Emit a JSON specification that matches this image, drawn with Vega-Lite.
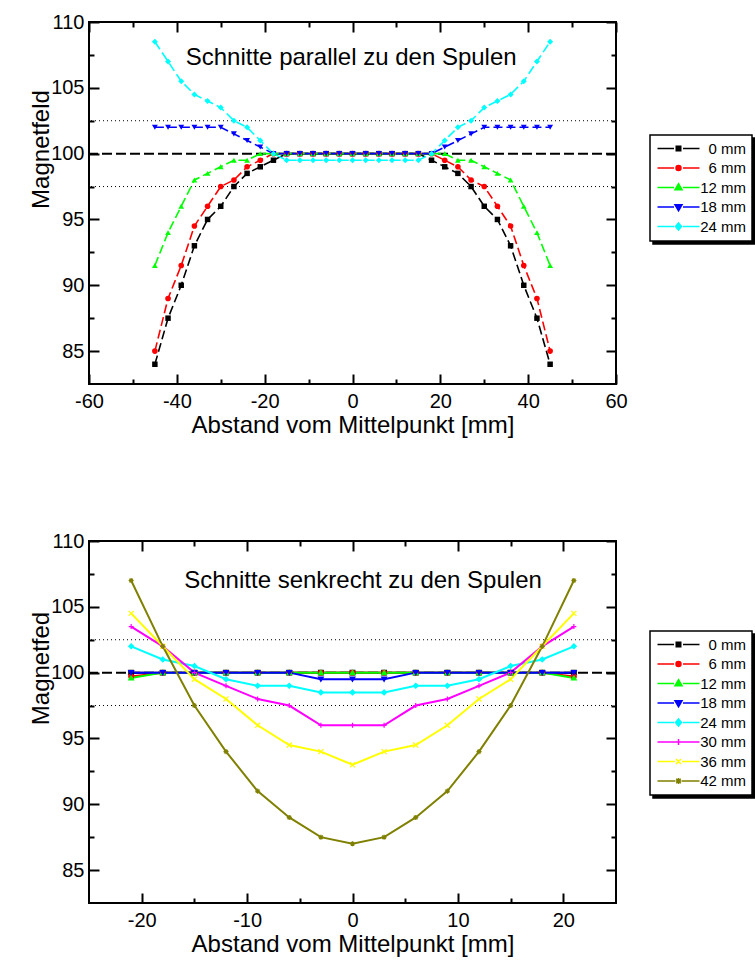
{
  "$schema": "https://vega.github.io/schema/vega-lite/v6.json",
  "padding": {"left": 28, "top": 11, "right": 0, "bottom": 0},
  "background": "white",
  "spacing": 92,
  "config": {
    "font": "Liberation Sans",
    "view": {"stroke": "black", "strokeWidth": 2},
    "axis": {"grid": false, "domain": false, "labelFont": "Liberation Sans", "titleFont": "Liberation Sans", "labelColor": "black", "titleColor": "black", "tickColor": "black", "tickWidth": 2, "labelFontSize": 20, "titleFontSize": 24, "titleFontWeight": "normal", "labelFlush": false, "labelOverlap": false},
    "legend": {"labelFont": "Liberation Sans", "labelFontSize": 15, "labelColor": "black", "strokeColor": "black", "strokeWidth": 1.5, "fillColor": "white", "padding": 6, "symbolSize": 100, "symbolStrokeWidth": 1.5, "symbolOpacity": 1, "labelAlign": "right", "labelOffset": 60, "symbolOffset": 15, "rowPadding": 3.5}
  },
  "datasets": {
    "parallel": [
      {"d":-45,"B":84,"s":"0 mm"},{"d":-42,"B":87.5,"s":"0 mm"},{"d":-39,"B":90,"s":"0 mm"},{"d":-36,"B":93,"s":"0 mm"},{"d":-33,"B":95,"s":"0 mm"},{"d":-30,"B":96,"s":"0 mm"},{"d":-27,"B":97.5,"s":"0 mm"},{"d":-24,"B":98.5,"s":"0 mm"},{"d":-21,"B":99,"s":"0 mm"},{"d":-18,"B":99.5,"s":"0 mm"},{"d":-15,"B":100,"s":"0 mm"},{"d":-12,"B":100,"s":"0 mm"},{"d":-9,"B":100,"s":"0 mm"},{"d":-6,"B":100,"s":"0 mm"},{"d":-3,"B":100,"s":"0 mm"},{"d":0,"B":100,"s":"0 mm"},{"d":3,"B":100,"s":"0 mm"},{"d":6,"B":100,"s":"0 mm"},{"d":9,"B":100,"s":"0 mm"},{"d":12,"B":100,"s":"0 mm"},{"d":15,"B":100,"s":"0 mm"},{"d":18,"B":99.5,"s":"0 mm"},{"d":21,"B":99,"s":"0 mm"},{"d":24,"B":98.5,"s":"0 mm"},{"d":27,"B":97.5,"s":"0 mm"},{"d":30,"B":96,"s":"0 mm"},{"d":33,"B":95,"s":"0 mm"},{"d":36,"B":93,"s":"0 mm"},{"d":39,"B":90,"s":"0 mm"},{"d":42,"B":87.5,"s":"0 mm"},{"d":45,"B":84,"s":"0 mm"},
      {"d":-45,"B":85,"s":"6 mm"},{"d":-42,"B":89,"s":"6 mm"},{"d":-39,"B":91.5,"s":"6 mm"},{"d":-36,"B":94.5,"s":"6 mm"},{"d":-33,"B":96,"s":"6 mm"},{"d":-30,"B":97.5,"s":"6 mm"},{"d":-27,"B":98,"s":"6 mm"},{"d":-24,"B":99,"s":"6 mm"},{"d":-21,"B":99.5,"s":"6 mm"},{"d":-18,"B":100,"s":"6 mm"},{"d":-15,"B":100,"s":"6 mm"},{"d":-12,"B":100,"s":"6 mm"},{"d":-9,"B":100,"s":"6 mm"},{"d":-6,"B":100,"s":"6 mm"},{"d":-3,"B":100,"s":"6 mm"},{"d":0,"B":100,"s":"6 mm"},{"d":3,"B":100,"s":"6 mm"},{"d":6,"B":100,"s":"6 mm"},{"d":9,"B":100,"s":"6 mm"},{"d":12,"B":100,"s":"6 mm"},{"d":15,"B":100,"s":"6 mm"},{"d":18,"B":100,"s":"6 mm"},{"d":21,"B":99.5,"s":"6 mm"},{"d":24,"B":99,"s":"6 mm"},{"d":27,"B":98,"s":"6 mm"},{"d":30,"B":97.5,"s":"6 mm"},{"d":33,"B":96,"s":"6 mm"},{"d":36,"B":94.5,"s":"6 mm"},{"d":39,"B":91.5,"s":"6 mm"},{"d":42,"B":89,"s":"6 mm"},{"d":45,"B":85,"s":"6 mm"},
      {"d":-45,"B":91.5,"s":"12 mm"},{"d":-42,"B":94,"s":"12 mm"},{"d":-39,"B":96,"s":"12 mm"},{"d":-36,"B":98,"s":"12 mm"},{"d":-33,"B":98.5,"s":"12 mm"},{"d":-30,"B":99,"s":"12 mm"},{"d":-27,"B":99.5,"s":"12 mm"},{"d":-24,"B":99.5,"s":"12 mm"},{"d":-21,"B":100,"s":"12 mm"},{"d":-18,"B":100,"s":"12 mm"},{"d":-15,"B":100,"s":"12 mm"},{"d":-12,"B":100,"s":"12 mm"},{"d":-9,"B":100,"s":"12 mm"},{"d":-6,"B":100,"s":"12 mm"},{"d":-3,"B":100,"s":"12 mm"},{"d":0,"B":100,"s":"12 mm"},{"d":3,"B":100,"s":"12 mm"},{"d":6,"B":100,"s":"12 mm"},{"d":9,"B":100,"s":"12 mm"},{"d":12,"B":100,"s":"12 mm"},{"d":15,"B":100,"s":"12 mm"},{"d":18,"B":100,"s":"12 mm"},{"d":21,"B":100,"s":"12 mm"},{"d":24,"B":99.5,"s":"12 mm"},{"d":27,"B":99.5,"s":"12 mm"},{"d":30,"B":99,"s":"12 mm"},{"d":33,"B":98.5,"s":"12 mm"},{"d":36,"B":98,"s":"12 mm"},{"d":39,"B":96,"s":"12 mm"},{"d":42,"B":94,"s":"12 mm"},{"d":45,"B":91.5,"s":"12 mm"},
      {"d":-45,"B":102,"s":"18 mm"},{"d":-42,"B":102,"s":"18 mm"},{"d":-39,"B":102,"s":"18 mm"},{"d":-36,"B":102,"s":"18 mm"},{"d":-33,"B":102,"s":"18 mm"},{"d":-30,"B":102,"s":"18 mm"},{"d":-27,"B":101.5,"s":"18 mm"},{"d":-24,"B":101,"s":"18 mm"},{"d":-21,"B":100.5,"s":"18 mm"},{"d":-18,"B":100,"s":"18 mm"},{"d":-15,"B":100,"s":"18 mm"},{"d":-12,"B":100,"s":"18 mm"},{"d":-9,"B":100,"s":"18 mm"},{"d":-6,"B":100,"s":"18 mm"},{"d":-3,"B":100,"s":"18 mm"},{"d":0,"B":100,"s":"18 mm"},{"d":3,"B":100,"s":"18 mm"},{"d":6,"B":100,"s":"18 mm"},{"d":9,"B":100,"s":"18 mm"},{"d":12,"B":100,"s":"18 mm"},{"d":15,"B":100,"s":"18 mm"},{"d":18,"B":100,"s":"18 mm"},{"d":21,"B":100.5,"s":"18 mm"},{"d":24,"B":101,"s":"18 mm"},{"d":27,"B":101.5,"s":"18 mm"},{"d":30,"B":102,"s":"18 mm"},{"d":33,"B":102,"s":"18 mm"},{"d":36,"B":102,"s":"18 mm"},{"d":39,"B":102,"s":"18 mm"},{"d":42,"B":102,"s":"18 mm"},{"d":45,"B":102,"s":"18 mm"},
      {"d":-45,"B":108.5,"s":"24 mm"},{"d":-42,"B":107,"s":"24 mm"},{"d":-39,"B":105.5,"s":"24 mm"},{"d":-36,"B":104.5,"s":"24 mm"},{"d":-33,"B":104,"s":"24 mm"},{"d":-30,"B":103.5,"s":"24 mm"},{"d":-27,"B":102.5,"s":"24 mm"},{"d":-24,"B":102,"s":"24 mm"},{"d":-21,"B":101,"s":"24 mm"},{"d":-18,"B":100,"s":"24 mm"},{"d":-15,"B":99.5,"s":"24 mm"},{"d":-12,"B":99.5,"s":"24 mm"},{"d":-9,"B":99.5,"s":"24 mm"},{"d":-6,"B":99.5,"s":"24 mm"},{"d":-3,"B":99.5,"s":"24 mm"},{"d":0,"B":99.5,"s":"24 mm"},{"d":3,"B":99.5,"s":"24 mm"},{"d":6,"B":99.5,"s":"24 mm"},{"d":9,"B":99.5,"s":"24 mm"},{"d":12,"B":99.5,"s":"24 mm"},{"d":15,"B":99.5,"s":"24 mm"},{"d":18,"B":100,"s":"24 mm"},{"d":21,"B":101,"s":"24 mm"},{"d":24,"B":102,"s":"24 mm"},{"d":27,"B":102.5,"s":"24 mm"},{"d":30,"B":103.5,"s":"24 mm"},{"d":33,"B":104,"s":"24 mm"},{"d":36,"B":104.5,"s":"24 mm"},{"d":39,"B":105.5,"s":"24 mm"},{"d":42,"B":107,"s":"24 mm"},{"d":45,"B":108.5,"s":"24 mm"}
    ],
    "senkrecht": [
      {"d":-21,"B":100,"s":"0 mm"},{"d":-18,"B":100,"s":"0 mm"},{"d":-15,"B":100,"s":"0 mm"},{"d":-12,"B":100,"s":"0 mm"},{"d":-9,"B":100,"s":"0 mm"},{"d":-6,"B":100,"s":"0 mm"},{"d":-3,"B":100,"s":"0 mm"},{"d":0,"B":100,"s":"0 mm"},{"d":3,"B":100,"s":"0 mm"},{"d":6,"B":100,"s":"0 mm"},{"d":9,"B":100,"s":"0 mm"},{"d":12,"B":100,"s":"0 mm"},{"d":15,"B":100,"s":"0 mm"},{"d":18,"B":100,"s":"0 mm"},{"d":21,"B":100,"s":"0 mm"},
      {"d":-21,"B":99.7,"s":"6 mm"},{"d":-18,"B":100,"s":"6 mm"},{"d":-15,"B":100,"s":"6 mm"},{"d":-12,"B":100,"s":"6 mm"},{"d":-9,"B":100,"s":"6 mm"},{"d":-6,"B":100,"s":"6 mm"},{"d":-3,"B":100,"s":"6 mm"},{"d":0,"B":100,"s":"6 mm"},{"d":3,"B":100,"s":"6 mm"},{"d":6,"B":100,"s":"6 mm"},{"d":9,"B":100,"s":"6 mm"},{"d":12,"B":100,"s":"6 mm"},{"d":15,"B":100,"s":"6 mm"},{"d":18,"B":100,"s":"6 mm"},{"d":21,"B":99.7,"s":"6 mm"},
      {"d":-21,"B":99.6,"s":"12 mm"},{"d":-18,"B":100,"s":"12 mm"},{"d":-15,"B":100,"s":"12 mm"},{"d":-12,"B":100,"s":"12 mm"},{"d":-9,"B":100,"s":"12 mm"},{"d":-6,"B":100,"s":"12 mm"},{"d":-3,"B":100,"s":"12 mm"},{"d":0,"B":100,"s":"12 mm"},{"d":3,"B":100,"s":"12 mm"},{"d":6,"B":100,"s":"12 mm"},{"d":9,"B":100,"s":"12 mm"},{"d":12,"B":100,"s":"12 mm"},{"d":15,"B":100,"s":"12 mm"},{"d":18,"B":100,"s":"12 mm"},{"d":21,"B":99.6,"s":"12 mm"},
      {"d":-21,"B":100,"s":"18 mm"},{"d":-18,"B":100,"s":"18 mm"},{"d":-15,"B":100,"s":"18 mm"},{"d":-12,"B":100,"s":"18 mm"},{"d":-9,"B":100,"s":"18 mm"},{"d":-6,"B":100,"s":"18 mm"},{"d":-3,"B":99.5,"s":"18 mm"},{"d":0,"B":99.5,"s":"18 mm"},{"d":3,"B":99.5,"s":"18 mm"},{"d":6,"B":100,"s":"18 mm"},{"d":9,"B":100,"s":"18 mm"},{"d":12,"B":100,"s":"18 mm"},{"d":15,"B":100,"s":"18 mm"},{"d":18,"B":100,"s":"18 mm"},{"d":21,"B":100,"s":"18 mm"},
      {"d":-21,"B":102,"s":"24 mm"},{"d":-18,"B":101,"s":"24 mm"},{"d":-15,"B":100.5,"s":"24 mm"},{"d":-12,"B":99.5,"s":"24 mm"},{"d":-9,"B":99,"s":"24 mm"},{"d":-6,"B":99,"s":"24 mm"},{"d":-3,"B":98.5,"s":"24 mm"},{"d":0,"B":98.5,"s":"24 mm"},{"d":3,"B":98.5,"s":"24 mm"},{"d":6,"B":99,"s":"24 mm"},{"d":9,"B":99,"s":"24 mm"},{"d":12,"B":99.5,"s":"24 mm"},{"d":15,"B":100.5,"s":"24 mm"},{"d":18,"B":101,"s":"24 mm"},{"d":21,"B":102,"s":"24 mm"},
      {"d":-21,"B":103.5,"s":"30 mm"},{"d":-18,"B":102,"s":"30 mm"},{"d":-15,"B":100,"s":"30 mm"},{"d":-12,"B":99,"s":"30 mm"},{"d":-9,"B":98,"s":"30 mm"},{"d":-6,"B":97.5,"s":"30 mm"},{"d":-3,"B":96,"s":"30 mm"},{"d":0,"B":96,"s":"30 mm"},{"d":3,"B":96,"s":"30 mm"},{"d":6,"B":97.5,"s":"30 mm"},{"d":9,"B":98,"s":"30 mm"},{"d":12,"B":99,"s":"30 mm"},{"d":15,"B":100,"s":"30 mm"},{"d":18,"B":102,"s":"30 mm"},{"d":21,"B":103.5,"s":"30 mm"},
      {"d":-21,"B":104.5,"s":"36 mm"},{"d":-18,"B":102,"s":"36 mm"},{"d":-15,"B":99.5,"s":"36 mm"},{"d":-12,"B":98,"s":"36 mm"},{"d":-9,"B":96,"s":"36 mm"},{"d":-6,"B":94.5,"s":"36 mm"},{"d":-3,"B":94,"s":"36 mm"},{"d":0,"B":93,"s":"36 mm"},{"d":3,"B":94,"s":"36 mm"},{"d":6,"B":94.5,"s":"36 mm"},{"d":9,"B":96,"s":"36 mm"},{"d":12,"B":98,"s":"36 mm"},{"d":15,"B":99.5,"s":"36 mm"},{"d":18,"B":102,"s":"36 mm"},{"d":21,"B":104.5,"s":"36 mm"},
      {"d":-21,"B":107,"s":"42 mm"},{"d":-18,"B":102,"s":"42 mm"},{"d":-15,"B":97.5,"s":"42 mm"},{"d":-12,"B":94,"s":"42 mm"},{"d":-9,"B":91,"s":"42 mm"},{"d":-6,"B":89,"s":"42 mm"},{"d":-3,"B":87.5,"s":"42 mm"},{"d":0,"B":87,"s":"42 mm"},{"d":3,"B":87.5,"s":"42 mm"},{"d":6,"B":89,"s":"42 mm"},{"d":9,"B":91,"s":"42 mm"},{"d":12,"B":94,"s":"42 mm"},{"d":15,"B":97.5,"s":"42 mm"},{"d":18,"B":102,"s":"42 mm"},{"d":21,"B":107,"s":"42 mm"}
    ]
  },
  "vconcat": [
    {
      "width": 527, "height": 362,
      "data": {"name": "parallel"},
      "resolve": {"scale": {"color": "independent", "fill": "independent", "stroke": "independent", "shape": "independent", "size": "independent"}, "axis": {"x": "independent", "y": "independent"}},
      "layer": [
        {"data": {"values": [{"B": 102.5}, {"B": 97.5}]}, "mark": {"type": "rule", "strokeDash": [1, 3], "strokeWidth": 1, "color": "black"}, "encoding": {"y": {"field": "B", "type": "quantitative", "axis": null}}},
        {"data": {"values": [{"B": 100}]}, "mark": {"type": "rule", "strokeDash": [10, 4], "strokeWidth": 2, "color": "black"}, "encoding": {"y": {"field": "B", "type": "quantitative", "axis": null}}},
        {"mark": {"type": "line", "strokeDash": [9, 4], "strokeWidth": 1.6},
         "encoding": {
           "x": {"field": "d", "type": "quantitative", "scale": {"domain": [-60, 60], "nice": false, "zero": false}, "axis": {"orient": "bottom", "values": [-60, -40, -20, 0, 20, 40, 60], "labelExpr": "'' + datum.value", "tickSize": -10, "labelPadding": 17, "title": "Abstand vom Mittelpunkt [mm]", "titlePadding": 2}},
           "y": {"field": "B", "type": "quantitative", "scale": {"domain": [82.5, 110], "nice": false, "zero": false}, "axis": {"orient": "left", "values": [85, 90, 95, 100, 105, 110], "tickSize": -10, "labelPadding": 15, "title": "Magnetfeld", "titlePadding": -3, "titleY": 127}},
           "color": {"field": "s", "type": "nominal", "scale": {"domain": ["0 mm", "6 mm", "12 mm", "18 mm", "24 mm"], "range": ["#000000", "#FF0000", "#00FF00", "#0000FF", "#00FFFF"]}, "legend": null}
         }},
        {"mark": {"type": "point", "filled": true, "opacity": 1},
         "encoding": {
           "x": {"field": "d", "type": "quantitative", "axis": {"orient": "top", "values": [-60, -40, -20, 0, 20, 40, 60], "tickSize": -10, "labels": false, "title": null}},
           "y": {"field": "B", "type": "quantitative", "axis": {"orient": "right", "values": [85, 90, 95, 100, 105, 110], "tickSize": -10, "labels": false, "title": null}},
           "color": {"field": "s", "type": "nominal", "scale": {"domain": ["0 mm", "6 mm", "12 mm", "18 mm", "24 mm"], "range": ["#000000", "#FF0000", "#00FF00", "#0000FF", "#00FFFF"]}, "legend": null},
           "shape": {"field": "s", "type": "nominal", "scale": {"domain": ["0 mm", "6 mm", "12 mm", "18 mm", "24 mm"], "range": ["square", "circle", "triangle-up", "triangle-down", "diamond"]}, "legend": null},
           "size": {"field": "s", "type": "nominal", "scale": {"domain": ["0 mm", "6 mm", "12 mm", "18 mm", "24 mm"], "range": [30, 36, 75, 75, 80]}, "legend": null}
         }},
        {"mark": {"type": "point", "filled": true, "opacity": 0},
         "encoding": {
           "x": {"field": "d", "type": "quantitative", "axis": null},
           "y": {"field": "B", "type": "quantitative", "axis": null},
           "fill": {"field": "s", "type": "nominal", "scale": {"domain": ["0 mm", "6 mm", "12 mm", "18 mm", "24 mm"], "range": ["black", "black", "black", "black", "black"]}, "legend": {"orient": "none", "legendX": 564, "legendY": 116, "title": null, "fillColor": "black", "labelExpr": "' '", "labelOpacity": 0, "symbolOpacity": 0, "zindex": 0}},
           "shape": {"field": "s", "type": "nominal", "scale": {"domain": ["0 mm", "6 mm", "12 mm", "18 mm", "24 mm"], "range": [
             "M-4.2,0H-0.9M0.9,0H4.2M-0.45,-0.45H0.45V0.45H-0.45Z",
             "M-4.2,0H-0.9M0.9,0H4.2M-0.5,0A0.5,0.5,0,1,0,0.5,0A0.5,0.5,0,1,0,-0.5,0Z",
             "M-4.2,0H-0.9M0.9,0H4.2M0,-0.75L0.7,0.45H-0.7Z",
             "M-4.2,0H-0.9M0.9,0H4.2M0,0.75L0.7,-0.45H-0.7Z",
             "M-4.2,0H-0.9M0.9,0H4.2M0,-0.7L0.6,0L0,0.7L-0.6,0Z"]}, "legend": {"orient": "none", "legendX": 564, "legendY": 116, "title": null, "fillColor": "black", "labelExpr": "' '", "labelOpacity": 0, "symbolOpacity": 0, "zindex": 0}}
         }},
        {"mark": {"type": "point", "filled": true, "opacity": 0},
         "encoding": {
           "x": {"field": "d", "type": "quantitative", "axis": {"orient": "bottom", "values": [-50, -30, -10, 10, 30, 50], "tickSize": -5, "labels": false, "title": null}},
           "y": {"field": "B", "type": "quantitative", "axis": {"orient": "left", "values": [87.5, 92.5, 97.5, 102.5, 107.5], "tickSize": -5, "labels": false, "title": null}},
           "fill": {"field": "s", "type": "nominal", "scale": {"domain": ["0 mm", "6 mm", "12 mm", "18 mm", "24 mm"], "range": ["#000000", "#FF0000", "#00FF00", "#0000FF", "#00FFFF"]}, "legend": {"orient": "none", "legendX": 561, "legendY": 113, "title": null, "zindex": 1}},
           "stroke": {"field": "s", "type": "nominal", "scale": {"domain": ["0 mm", "6 mm", "12 mm", "18 mm", "24 mm"], "range": ["#000000", "#FF0000", "#00FF00", "#0000FF", "#00FFFF"]}, "legend": {"orient": "none", "legendX": 561, "legendY": 113, "title": null, "zindex": 1}},
           "shape": {"field": "s", "type": "nominal", "scale": {"domain": ["0 mm", "6 mm", "12 mm", "18 mm", "24 mm"], "range": [
             "M-4.2,0H-0.9M0.9,0H4.2M-0.45,-0.45H0.45V0.45H-0.45Z",
             "M-4.2,0H-0.9M0.9,0H4.2M-0.5,0A0.5,0.5,0,1,0,0.5,0A0.5,0.5,0,1,0,-0.5,0Z",
             "M-4.2,0H-0.9M0.9,0H4.2M0,-0.75L0.7,0.45H-0.7Z",
             "M-4.2,0H-0.9M0.9,0H4.2M0,0.75L0.7,-0.45H-0.7Z",
             "M-4.2,0H-0.9M0.9,0H4.2M0,-0.7L0.6,0L0,0.7L-0.6,0Z"]}, "legend": {"orient": "none", "legendX": 561, "legendY": 113, "title": null, "zindex": 1}}
         }},
        {"data": {"values": [{"label": "Schnitte parallel zu den Spulen"}]},
         "mark": {"type": "text", "fontSize": 24, "font": "Liberation Sans", "align": "center", "baseline": "alphabetic", "color": "black"},
         "encoding": {
           "text": {"field": "label", "type": "nominal"},
           "x": {"datum": -0.3, "type": "quantitative", "axis": {"orient": "top", "values": [-50, -30, -10, 10, 30, 50], "tickSize": -5, "labels": false, "title": null}},
           "y": {"datum": 106.7, "type": "quantitative", "axis": {"orient": "right", "values": [87.5, 92.5, 97.5, 102.5, 107.5], "tickSize": -5, "labels": false, "title": null}}
         }}
      ]
    },
    {
      "width": 527, "height": 362,
      "data": {"name": "senkrecht"},
      "resolve": {"scale": {"color": "independent", "fill": "independent", "stroke": "independent", "shape": "independent", "size": "independent"}, "axis": {"x": "independent", "y": "independent"}},
      "layer": [
        {"data": {"values": [{"B": 102.5}, {"B": 97.5}]}, "mark": {"type": "rule", "strokeDash": [1, 3], "strokeWidth": 1, "color": "black"}, "encoding": {"y": {"field": "B", "type": "quantitative", "axis": null}}},
        {"data": {"values": [{"B": 100}]}, "mark": {"type": "rule", "strokeDash": [10, 4], "strokeWidth": 2, "color": "black"}, "encoding": {"y": {"field": "B", "type": "quantitative", "axis": null}}},
        {"mark": {"type": "line", "strokeWidth": 2},
         "encoding": {
           "x": {"field": "d", "type": "quantitative", "scale": {"domain": [-25, 25], "nice": false, "zero": false}, "axis": {"orient": "bottom", "values": [-20, -10, 0, 10, 20], "labelExpr": "'' + datum.value", "tickSize": -10, "labelPadding": 17, "title": "Abstand vom Mittelpunkt [mm]", "titlePadding": 2}},
           "y": {"field": "B", "type": "quantitative", "scale": {"domain": [82.5, 110], "nice": false, "zero": false}, "axis": {"orient": "left", "values": [85, 90, 95, 100, 105, 110], "tickSize": -10, "labelPadding": 15, "title": "Magnetfed", "titlePadding": -3, "titleY": 127}},
           "color": {"field": "s", "type": "nominal", "scale": {"domain": ["0 mm", "6 mm", "12 mm", "18 mm", "24 mm", "30 mm", "36 mm", "42 mm"], "range": ["#000000", "#FF0000", "#00FF00", "#0000FF", "#00FFFF", "#FF00FF", "#FFFF00", "#808000"]}, "legend": null}
         }},
        {"mark": {"type": "point", "filled": true, "opacity": 1, "strokeWidth": 1.2},
         "encoding": {
           "x": {"field": "d", "type": "quantitative", "axis": {"orient": "top", "values": [-20, -10, 0, 10, 20], "tickSize": -10, "labels": false, "title": null}},
           "y": {"field": "B", "type": "quantitative", "axis": {"orient": "right", "values": [85, 90, 95, 100, 105, 110], "tickSize": -10, "labels": false, "title": null}},
           "color": {"field": "s", "type": "nominal", "scale": {"domain": ["0 mm", "6 mm", "12 mm", "18 mm", "24 mm", "30 mm", "36 mm", "42 mm"], "range": ["#000000", "#FF0000", "#00FF00", "#0000FF", "#00FFFF", "#FF00FF", "#FFFF00", "#808000"]}, "legend": null},
           "stroke": {"field": "s", "type": "nominal", "scale": {"domain": ["0 mm", "6 mm", "12 mm", "18 mm", "24 mm", "30 mm", "36 mm", "42 mm"], "range": ["#000000", "#FF0000", "#00FF00", "#0000FF", "#00FFFF", "#FF00FF", "#FFFF00", "#808000"]}, "legend": null},
           "shape": {"field": "s", "type": "nominal", "scale": {"domain": ["0 mm", "6 mm", "12 mm", "18 mm", "24 mm", "30 mm", "36 mm", "42 mm"], "range": ["square", "circle", "triangle-up", "triangle-down", "diamond", "M-1,0H1M0,-1V1", "M-1,-1L1,1M-1,1L1,-1", "M-1,0H1M0,-1V1M-0.7,-0.7L0.7,0.7M-0.7,0.7L0.7,-0.7"]}, "legend": null},
           "size": {"field": "s", "type": "nominal", "scale": {"domain": ["0 mm", "6 mm", "12 mm", "18 mm", "24 mm", "30 mm", "36 mm", "42 mm"], "range": [22, 26, 45, 45, 48, 44, 36, 34]}, "legend": null}
         }},
        {"mark": {"type": "point", "filled": true, "opacity": 0},
         "encoding": {
           "x": {"field": "d", "type": "quantitative", "axis": null},
           "y": {"field": "B", "type": "quantitative", "axis": null},
           "fill": {"field": "s", "type": "nominal", "scale": {"domain": ["0 mm", "6 mm", "12 mm", "18 mm", "24 mm", "30 mm", "36 mm", "42 mm"], "range": ["black", "black", "black", "black", "black", "black", "black", "black"]}, "legend": {"orient": "none", "legendX": 564, "legendY": 93, "title": null, "fillColor": "black", "labelExpr": "' '", "labelOpacity": 0, "symbolOpacity": 0, "zindex": 0}},
           "shape": {"field": "s", "type": "nominal", "scale": {"domain": ["0 mm", "6 mm", "12 mm", "18 mm", "24 mm", "30 mm", "36 mm", "42 mm"], "range": [
             "M-4.2,0H-0.9M0.9,0H4.2M-0.45,-0.45H0.45V0.45H-0.45Z",
             "M-4.2,0H-0.9M0.9,0H4.2M-0.5,0A0.5,0.5,0,1,0,0.5,0A0.5,0.5,0,1,0,-0.5,0Z",
             "M-4.2,0H-0.9M0.9,0H4.2M0,-0.75L0.7,0.45H-0.7Z",
             "M-4.2,0H-0.9M0.9,0H4.2M0,0.75L0.7,-0.45H-0.7Z",
             "M-4.2,0H-0.9M0.9,0H4.2M0,-0.7L0.6,0L0,0.7L-0.6,0Z",
             "M-4.2,0H4.2M0,-0.6V0.6",
             "M-4.2,0H-0.7M0.7,0H4.2M-0.5,-0.5L0.5,0.5M-0.5,0.5L0.5,-0.5",
             "M-4.2,0H-0.7M0.7,0H4.2M-0.6,0H0.6M0,-0.6V0.6M-0.45,-0.45L0.45,0.45M-0.45,0.45L0.45,-0.45"]}, "legend": {"orient": "none", "legendX": 564, "legendY": 93, "title": null, "fillColor": "black", "labelExpr": "' '", "labelOpacity": 0, "symbolOpacity": 0, "zindex": 0}}
         }},
        {"mark": {"type": "point", "filled": true, "opacity": 0},
         "encoding": {
           "x": {"field": "d", "type": "quantitative", "axis": {"orient": "bottom", "values": [-15, -5, 5, 15], "tickSize": -5, "labels": false, "title": null}},
           "y": {"field": "B", "type": "quantitative", "axis": {"orient": "left", "values": [87.5, 92.5, 97.5, 102.5, 107.5], "tickSize": -5, "labels": false, "title": null}},
           "fill": {"field": "s", "type": "nominal", "scale": {"domain": ["0 mm", "6 mm", "12 mm", "18 mm", "24 mm", "30 mm", "36 mm", "42 mm"], "range": ["#000000", "#FF0000", "#00FF00", "#0000FF", "#00FFFF", "#FF00FF", "#FFFF00", "#808000"]}, "legend": {"orient": "none", "legendX": 561, "legendY": 90, "title": null, "zindex": 1}},
           "stroke": {"field": "s", "type": "nominal", "scale": {"domain": ["0 mm", "6 mm", "12 mm", "18 mm", "24 mm", "30 mm", "36 mm", "42 mm"], "range": ["#000000", "#FF0000", "#00FF00", "#0000FF", "#00FFFF", "#FF00FF", "#FFFF00", "#808000"]}, "legend": {"orient": "none", "legendX": 561, "legendY": 90, "title": null, "zindex": 1}},
           "shape": {"field": "s", "type": "nominal", "scale": {"domain": ["0 mm", "6 mm", "12 mm", "18 mm", "24 mm", "30 mm", "36 mm", "42 mm"], "range": [
             "M-4.2,0H-0.9M0.9,0H4.2M-0.45,-0.45H0.45V0.45H-0.45Z",
             "M-4.2,0H-0.9M0.9,0H4.2M-0.5,0A0.5,0.5,0,1,0,0.5,0A0.5,0.5,0,1,0,-0.5,0Z",
             "M-4.2,0H-0.9M0.9,0H4.2M0,-0.75L0.7,0.45H-0.7Z",
             "M-4.2,0H-0.9M0.9,0H4.2M0,0.75L0.7,-0.45H-0.7Z",
             "M-4.2,0H-0.9M0.9,0H4.2M0,-0.7L0.6,0L0,0.7L-0.6,0Z",
             "M-4.2,0H4.2M0,-0.6V0.6",
             "M-4.2,0H-0.7M0.7,0H4.2M-0.5,-0.5L0.5,0.5M-0.5,0.5L0.5,-0.5",
             "M-4.2,0H-0.7M0.7,0H4.2M-0.6,0H0.6M0,-0.6V0.6M-0.45,-0.45L0.45,0.45M-0.45,0.45L0.45,-0.45"]}, "legend": {"orient": "none", "legendX": 561, "legendY": 90, "title": null, "zindex": 1}}
         }},
        {"data": {"values": [{"label": "Schnitte senkrecht zu den Spulen"}]},
         "mark": {"type": "text", "fontSize": 24, "font": "Liberation Sans", "align": "center", "baseline": "alphabetic", "color": "black"},
         "encoding": {
           "text": {"field": "label", "type": "nominal"},
           "x": {"datum": 1, "type": "quantitative", "axis": {"orient": "top", "values": [-15, -5, 5, 15], "tickSize": -5, "labels": false, "title": null}},
           "y": {"datum": 106.4, "type": "quantitative", "axis": {"orient": "right", "values": [87.5, 92.5, 97.5, 102.5, 107.5], "tickSize": -5, "labels": false, "title": null}}
         }}
      ]
    }
  ]
}
